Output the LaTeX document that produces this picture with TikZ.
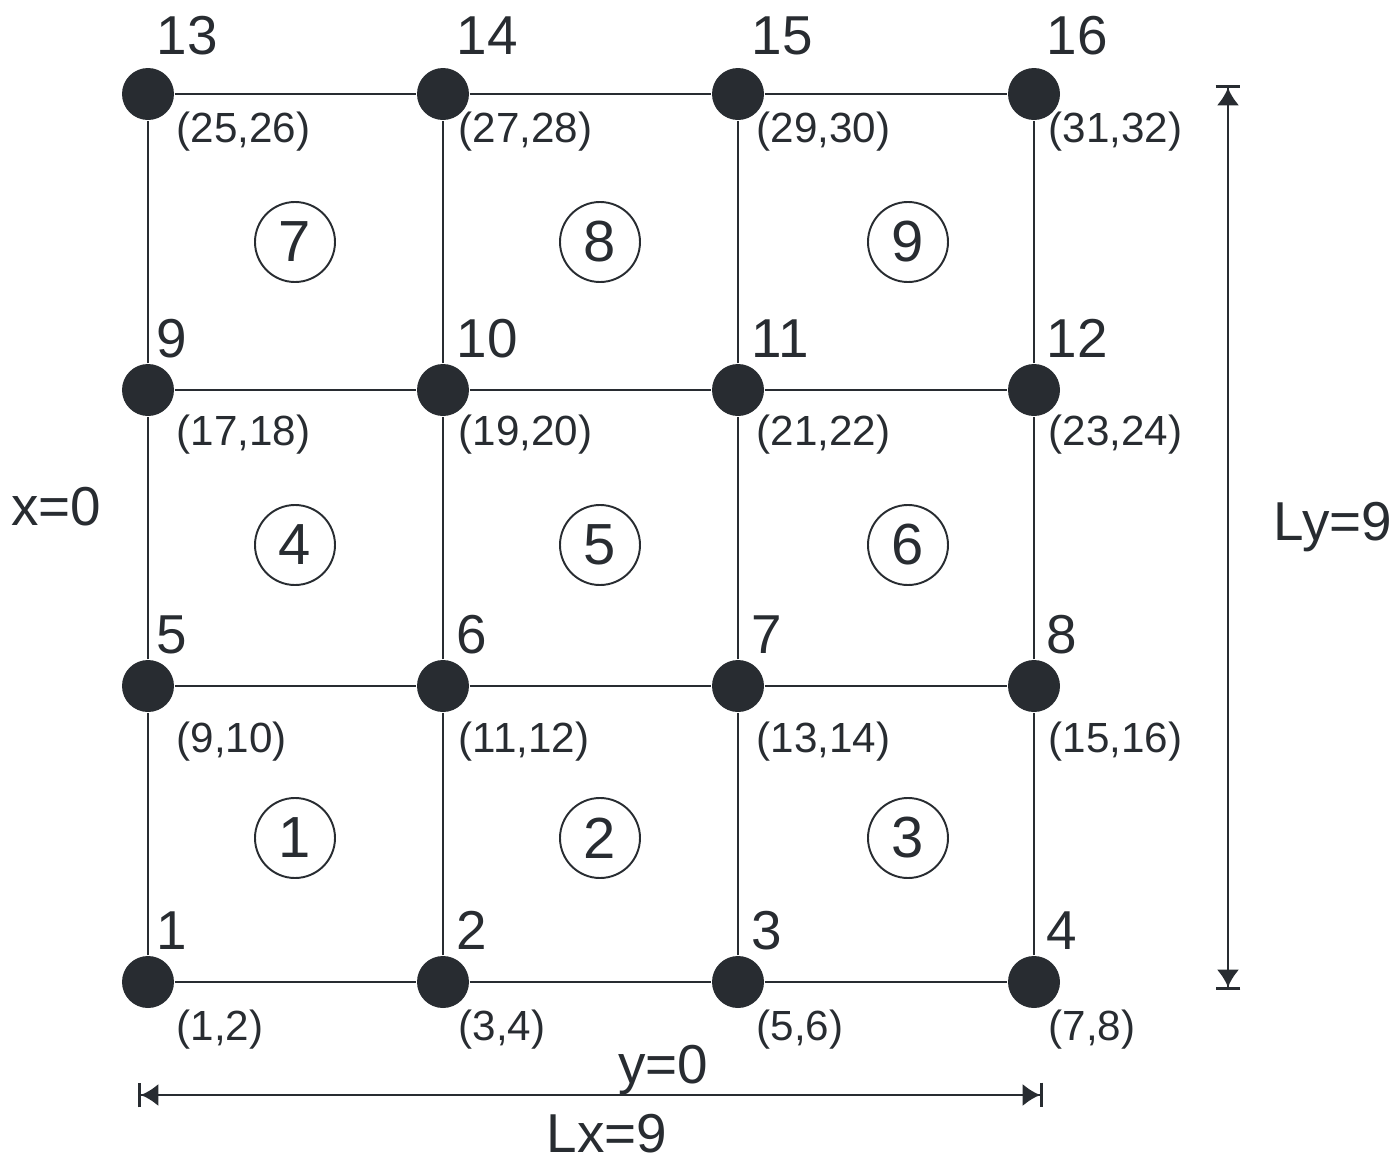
\documentclass[tikz,border=0pt]{standalone}
\usepackage{fontspec}
\setmainfont{Liberation Sans}
\usepackage{tikz}
\usetikzlibrary{arrows.meta}
\usepackage{xcolor}
\definecolor{ink}{RGB}{40,44,49}

\begin{document}
\begin{tikzpicture}[
    dot/.style={circle, fill=ink, minimum size=0.52cm, inner sep=0pt},
    elem/.style={circle, draw=ink, line width=0.55pt, minimum size=0.80cm, inner sep=0pt, text=ink, font=\fontsize{16.5}{18}\selectfont},
    num/.style={anchor=base west, inner sep=0pt, text=ink, font=\fontsize{15.6}{18}\selectfont},
    dof/.style={anchor=west, inner sep=0pt, text=ink, font=\fontsize{12}{14}\selectfont},
    big/.style={anchor=base, inner sep=0pt, text=ink, font=\fontsize{15.6}{18}\selectfont},
    edge/.style={draw=ink, line width=0.6pt},
    dim/.style={{Bar[width=7pt]Latex[length=5pt,width=6.4pt]}-{Latex[length=5pt,width=6.4pt]Bar[width=7pt]}, draw=ink, line width=0.8pt},
  ]
    \useasboundingbox (0,0) rectangle (13.96,11.59);

    % mesh nodes
    \node[dot] (n1) at (1.48,1.77) {};
    \node[dot] (n2) at (4.43,1.77) {};
    \node[dot] (n3) at (7.38,1.77) {};
    \node[dot] (n4) at (10.34,1.77) {};
    \node[dot] (n5) at (1.48,4.73) {};
    \node[dot] (n6) at (4.43,4.73) {};
    \node[dot] (n7) at (7.38,4.73) {};
    \node[dot] (n8) at (10.34,4.73) {};
    \node[dot] (n9) at (1.48,7.69) {};
    \node[dot] (n10) at (4.43,7.69) {};
    \node[dot] (n11) at (7.38,7.69) {};
    \node[dot] (n12) at (10.34,7.69) {};
    \node[dot] (n13) at (1.48,10.65) {};
    \node[dot] (n14) at (4.43,10.65) {};
    \node[dot] (n15) at (7.38,10.65) {};
    \node[dot] (n16) at (10.34,10.65) {};

    % mesh lines
    \draw[edge] (n1) -- (n2) -- (n3) -- (n4);
    \draw[edge] (n5) -- (n6) -- (n7) -- (n8);
    \draw[edge] (n9) -- (n10) -- (n11) -- (n12);
    \draw[edge] (n13) -- (n14) -- (n15) -- (n16);
    \draw[edge] (n1) -- (n5) -- (n9) -- (n13);
    \draw[edge] (n2) -- (n6) -- (n10) -- (n14);
    \draw[edge] (n3) -- (n7) -- (n11) -- (n15);
    \draw[edge] (n4) -- (n8) -- (n12) -- (n16);

    % node numbers
    \node[num] (l1) at (1.56,2.10) {1};
    \node[num] (l2) at (4.56,2.10) {2};
    \node[num] (l3) at (7.51,2.10) {3};
    \node[num] (l4) at (10.46,2.10) {4};
    \node[num] (l5) at (1.56,5.06) {5};
    \node[num] (l6) at (4.56,5.06) {6};
    \node[num] (l7) at (7.51,5.06) {7};
    \node[num] (l8) at (10.46,5.06) {8};
    \node[num] (l9) at (1.56,8.02) {9};
    \node[num] (l10) at (4.56,8.02) {10};
    \node[num] (l11) at (7.51,8.02) {11};
    \node[num] (l12) at (10.46,8.02) {12};
    \node[num] (l13) at (1.56,11.05) {13};
    \node[num] (l14) at (4.56,11.05) {14};
    \node[num] (l15) at (7.51,11.05) {15};
    \node[num] (l16) at (10.46,11.05) {16};

    % degrees of freedom
    \node[dof] (d1) at (1.76,1.29) {(1,2)};
    \node[dof] (d2) at (4.58,1.29) {(3,4)};
    \node[dof] (d3) at (7.56,1.29) {(5,6)};
    \node[dof] (d4) at (10.48,1.29) {(7,8)};
    \node[dof] (d5) at (1.76,4.17) {(9,10)};
    \node[dof] (d6) at (4.58,4.17) {(11,12)};
    \node[dof] (d7) at (7.56,4.17) {(13,14)};
    \node[dof] (d8) at (10.48,4.17) {(15,16)};
    \node[dof] (d9) at (1.76,7.24) {(17,18)};
    \node[dof] (d10) at (4.58,7.24) {(19,20)};
    \node[dof] (d11) at (7.56,7.24) {(21,22)};
    \node[dof] (d12) at (10.48,7.24) {(23,24)};
    \node[dof] (d13) at (1.76,10.27) {(25,26)};
    \node[dof] (d14) at (4.58,10.27) {(27,28)};
    \node[dof] (d15) at (7.56,10.27) {(29,30)};
    \node[dof] (d16) at (10.48,10.27) {(31,32)};

    % elements
    \node[elem] (e1) at (2.95,3.21) {1};
    \node[elem] (e2) at (6.00,3.21) {2};
    \node[elem] (e3) at (9.08,3.21) {3};
    \node[elem] (e4) at (2.95,6.14) {4};
    \node[elem] (e5) at (6.00,6.14) {5};
    \node[elem] (e6) at (9.08,6.14) {6};
    \node[elem] (e7) at (2.95,9.17) {7};
    \node[elem] (e8) at (6.00,9.17) {8};
    \node[elem] (e9) at (9.08,9.17) {9};

    % dimensions and boundaries
    \coordinate (lxa) at (1.38,0.64);
    \coordinate (lxb) at (10.43,0.64);
    \coordinate (lya) at (12.28,1.69);
    \coordinate (lyb) at (12.28,10.74);
    \draw[dim] (lxa) -- (lxb);
    \draw[dim] (lya) -- (lyb);

    \node[big] (lx) at (6.07,0.07) {Lx=9};
    \node[big] (ly) at (13.33,6.19) {Ly=9};
    \node[big] (yzero) at (6.63,0.76) {y=0};
    \node[big] (xzero) at (0.56,6.34) {x=0};
  \end{tikzpicture}
\end{document}
